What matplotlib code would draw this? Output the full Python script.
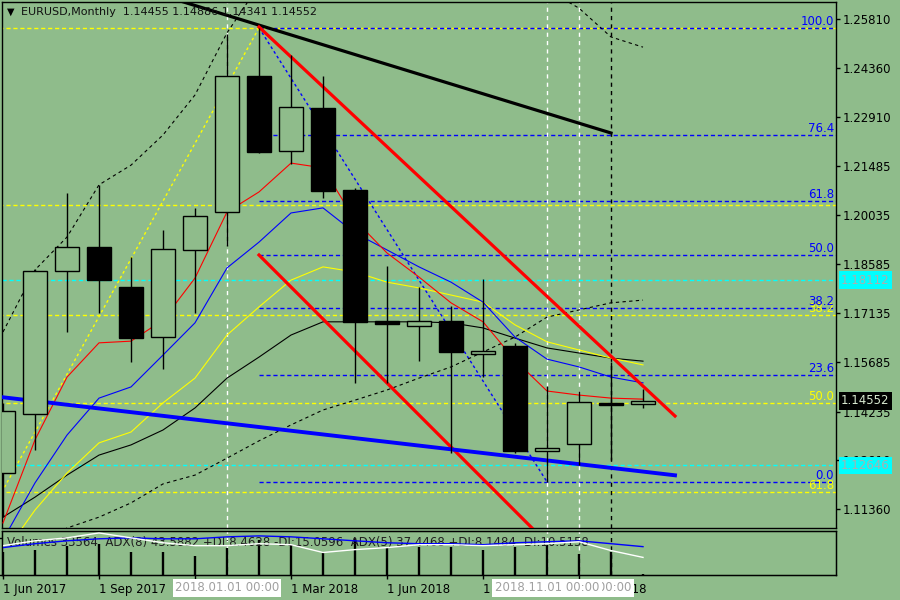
import matplotlib
matplotlib.use("Agg")
import matplotlib.pyplot as plt
import matplotlib.transforms as mtransforms

# --- DATA (EURUSD monthly) ---
months = ["Jun 2017", "Jul 2017", "Aug 2017", "Sep 2017", "Oct 2017", "Nov 2017", "Dec 2017",
          "Jan 2018", "Feb 2018", "Mar 2018", "Apr 2018", "May 2018", "Jun 2018", "Jul 2018",
          "Aug 2018", "Sep 2018", "Oct 2018", "Nov 2018", "Dec 2018", "Jan 2019", "Feb 2019"]
opens  = [1.1242, 1.1416, 1.1838, 1.1909, 1.1791, 1.1643, 1.1900, 1.2012, 1.2413, 1.2192, 1.2319,
          1.2077, 1.1690, 1.1676, 1.1690, 1.1593, 1.1617, 1.1307, 1.1328, 1.1449, 1.14455]
highs  = [1.1449, 1.1844, 1.2068, 1.2091, 1.1879, 1.1959, 1.2024, 1.2537, 1.2555, 1.2475, 1.2413,
          1.2083, 1.1853, 1.1791, 1.1735, 1.1814, 1.1626, 1.1499, 1.1484, 1.1570, 1.14886]
lows   = [1.1112, 1.1310, 1.1658, 1.1714, 1.1570, 1.1549, 1.1714, 1.1912, 1.2186, 1.2153, 1.2053,
          1.1508, 1.1508, 1.1572, 1.1301, 1.1525, 1.1301, 1.1216, 1.1266, 1.1281, 1.14341]
closes = [1.1425, 1.1838, 1.1909, 1.1811, 1.1640, 1.1903, 1.2000, 1.2413, 1.2189, 1.2322, 1.2074,
          1.1687, 1.1681, 1.1690, 1.1599, 1.1602, 1.1307, 1.1316, 1.1452, 1.1443, 1.14552]
volumes = [1040000, 1131000, 1312000, 1402000, 1040000, 1040000, 860000, 1221000, 1583000,
           1357000, 1040000, 1673811, 1267000, 1267000, 1267000, 1131000, 1267000, 1357000,
           950000, 1040000, 33564]

ma_red    = [1.1095, 1.1340, 1.1525, 1.1626, 1.1631, 1.1693, 1.1817, 1.2012, 1.2071, 1.2156, 1.2142,
             1.1988, 1.1891, 1.1820, 1.1744, 1.1688, 1.1575, 1.1484, 1.1472, 1.1463, 1.1460]
ma_blue   = [1.1045, 1.1213, 1.1354, 1.1463, 1.1496, 1.1590, 1.1685, 1.1847, 1.1923, 1.2009, 1.2024,
             1.1950, 1.1900, 1.1850, 1.1805, 1.1746, 1.1643, 1.1578, 1.1555, 1.1525, 1.1508]
ma_yellow = [1.1000, 1.1133, 1.1242, 1.1331, 1.1363, 1.1449, 1.1522, 1.1649, 1.1732, 1.1811, 1.1850,
             1.1835, 1.1805, 1.1788, 1.1767, 1.1746, 1.1679, 1.1629, 1.1605, 1.1581, 1.1561]
ma_black  = [1.1112, 1.1171, 1.1236, 1.1295, 1.1325, 1.1369, 1.1434, 1.1522, 1.1584, 1.1649, 1.1688,
             1.1688, 1.1688, 1.1688, 1.1685, 1.1670, 1.1640, 1.1611, 1.1596, 1.1581, 1.1572]
band_upper = [1.1658, 1.1841, 1.1938, 1.2092, 1.2150, 1.2239, 1.2357, 1.2540, 1.2681, 1.2755, 1.2814,
              1.2844, 1.2844, 1.2829, 1.2799, 1.2755, 1.2711, 1.2667, 1.2613, 1.2528, 1.2498]
band_lower = [1.0956, 1.1015, 1.1080, 1.1112, 1.1154, 1.1210, 1.1236, 1.1286, 1.1337, 1.1384, 1.1428,
              1.1457, 1.1487, 1.1522, 1.1555, 1.1599, 1.1643, 1.1702, 1.1723, 1.1744, 1.1752]

adx_blue  = [43.6, 49.8, 54.4, 57.6, 59.1, 57.6, 57.6, 60.7, 62.2, 60.7, 57.6, 54.4, 51.3, 49.8,
             49.8, 48.2, 51.3, 52.9, 54.4, 49.8, 45.1]
adx_white = [46.7, 54.4, 59.1, 66.9, 59.1, 51.3, 46.7, 46.7, 49.8, 48.2, 35.8, 40.4, 43.6, 48.2,
             48.2, 46.7, 48.2, 49.8, 52.9, 38.9, 28.0]

# trend lines: (bar index, price) anchors
black_tl = ([5, 19], [1.26497, 1.22448])
red_upper_tl = ([8, 21], [1.25574, 1.14102])
red_lower_tl = ([8, 17], [1.18850, 1.10358])
blue_tl = ([-1, 21], [1.14764, 1.12354])

fib_blue_x = [8, 17]
fib_blue_p = [1.2555, 1.1216]
fib_blue_levels = [0.0, 23.6, 38.2, 50.0, 61.8, 76.4, 100.0]
fib_yel_x = [-5, 8]
fib_yel_p = [1.0341, 1.2555]
fib_yel_levels = [0.0, 23.6, 38.2, 50.0, 61.8]
fib_yel_labeled = [38.2, 50.0, 61.8]

cyan_levels = [1.18112, 1.12646]
white_vlines = [7, 17, 18]
white_vlabels = ["2018.01.01 00:00", "2018.11.01 00:00", "2018.12.01 00:00"]
black_vlines = [19]

price_ticks = [1.25810, 1.24360, 1.22910, 1.21485, 1.20035, 1.18585, 1.17135, 1.15685,
               1.14235, 1.12810, 1.11360]

bg = "#8fbc8b"
plt.rcParams["font.family"] = ["DejaVu Sans"]
plt.rcParams["font.size"] = 8

fig = plt.figure(figsize=(9, 6), dpi=100, facecolor=bg)
W, H = 900, 600
ax = fig.add_axes([2 / W, 1 - 528 / H, 834 / W, 526 / H], facecolor=bg)
vax = fig.add_axes([2 / W, 1 - 575 / H, 834 / W, 44 / H], facecolor=bg)

x = list(range(len(months)))
xlim = (-1 / 32, 833 / 32)

# --- MAIN PANEL ---
dash = (0, (3, 2))
for p in cyan_levels:
    ax.axhline(p, color="#00ffff", lw=1, ls=dash, zorder=2)

yl_hi, yl_lo = fib_yel_p[1], fib_yel_p[0]
ytr = mtransforms.blended_transform_factory(ax.transAxes, ax.transData)
for lv in fib_yel_levels:
    pr = yl_hi - lv / 100 * (yl_hi - yl_lo)
    ax.plot([fib_yel_x[0], xlim[1]], [pr, pr], color="#ffff00", lw=1, ls=dash, zorder=2)
    if lv in fib_yel_labeled:
        ax.text(0.9976, pr, f"{lv:.1f}", color="#ffff00", ha="right", va="bottom",
                transform=ytr, fontsize=8.5, zorder=3)
ax.plot(fib_yel_x, fib_yel_p, color="#ffff00", lw=1, ls=(0, (2, 2)), zorder=2)

bl_hi, bl_lo = fib_blue_p[0], fib_blue_p[1]
for lv in fib_blue_levels:
    pr = bl_lo + lv / 100 * (bl_hi - bl_lo)
    ax.plot([fib_blue_x[0], xlim[1]], [pr, pr], color="#0000ff", lw=1, ls=dash, zorder=2)
    ax.text(0.9976, pr, f"{lv:.1f}", color="#0000ff", ha="right", va="bottom",
            transform=ytr, fontsize=8.5, zorder=3)
ax.plot(fib_blue_x, fib_blue_p, color="#0000ff", lw=1, ls=(0, (2, 2)), zorder=2)

for v in white_vlines:
    ax.axvline(v, color="white", lw=1, ls=(0, (3, 3)), zorder=2)
    vax.axvline(v, color="white", lw=1, ls=(0, (3, 3)), zorder=2)
for v in black_vlines:
    ax.axvline(v, color="black", lw=1, ls=(0, (3, 3)), zorder=2)
    vax.axvline(v, color="black", lw=1, ls=(0, (3, 3)), zorder=2)

ax.plot(x, band_upper, color="black", lw=0.8, ls=(0, (3, 3)), zorder=3)
ax.plot(x, band_lower, color="black", lw=0.8, ls=(0, (3, 3)), zorder=3)
ax.plot(x, ma_black, color="black", lw=0.8, zorder=3)
ax.plot(x, ma_yellow, color="#ffff00", lw=0.8, zorder=3)
ax.plot(x, ma_blue, color="#0000ff", lw=0.8, zorder=3)
ax.plot(x, ma_red, color="#ff0000", lw=0.8, zorder=3)

ax.plot(*black_tl, color="black", lw=2.3, zorder=4)
ax.plot(*red_upper_tl, color="#ff0000", lw=2.3, zorder=4)
ax.plot(*red_lower_tl, color="#ff0000", lw=2.3, zorder=4)
ax.plot(*blue_tl, color="#0000ff", lw=2.8, zorder=4)

# candles
ax.vlines(x, lows, highs, color="black", lw=1, zorder=6)
bottoms = [min(o, c) for o, c in zip(opens, closes)]
heights = [max(abs(c - o), 0.00005) for o, c in zip(opens, closes)]
fills = ["black" if c < o else bg for o, c in zip(opens, closes)]
ax.bar(x, heights, bottom=bottoms, width=0.75, color=fills, edgecolor="black",
       linewidth=1, zorder=7)

ax.set_xlim(*xlim)
ax.set_ylim(1.10800, 1.26311)
ax.set_xticks([])
ax.yaxis.tick_right()
ax.set_yticks(price_ticks)
ax.set_yticklabels([f"{p:.5f}" for p in price_ticks])
ax.tick_params(axis="y", direction="out", length=3, width=1, pad=2, labelsize=8.5)
for s in ax.spines.values():
    s.set_linewidth(1)

ax.text(1.006, closes[-1], f"{closes[-1]:.5f}", transform=ytr, ha="left", va="center",
        color="#d8e8d0", fontsize=8.5, zorder=10, clip_on=False,
        bbox=dict(boxstyle="square,pad=0.2", fc="black", ec="none"))
for p in cyan_levels:
    ax.text(1.006, p, f"{p:.5f}", transform=ytr, ha="left", va="center",
            color="#a8b0b0", fontsize=8.5, zorder=10, clip_on=False,
            bbox=dict(boxstyle="square,pad=0.2", fc="#00ffff", ec="none"))

fig.text(7 / W, 1 - 12 / H, "\u25bc", fontsize=7, va="center", ha="left")
fig.text(21 / W, 1 - 12 / H,
         f"EURUSD,Monthly  {opens[-1]:.5f} {highs[-1]:.5f} {lows[-1]:.5f} {closes[-1]:.5f}",
         fontsize=8, va="center", ha="left", color="#101010")

# --- VOLUME / ADX PANEL ---
vax.vlines(x, 0, volumes, color="black", lw=1.7, zorder=3)
vax.set_xlim(*xlim)
vax.set_ylim(0, 1673811 * 44 / 37)
vax.yaxis.tick_right()
vax.set_yticks([0, 1673811])
vax.set_yticklabels(["0", "1673811"])
vax.get_yticklabels()[0].set_va("bottom")
vax.tick_params(axis="y", direction="out", length=3, width=1, pad=2, labelsize=8.5)

tick_idx = [0, 3, 6, 9, 12, 15, 18]
vax.set_xticks(tick_idx)
vax.set_xticklabels(["1 " + months[i] for i in tick_idx], ha="left")
vax.tick_params(axis="x", direction="out", length=3, width=1, pad=3, labelsize=8.5)
for s in vax.spines.values():
    s.set_linewidth(1)

xtr = vax.get_xaxis_transform()
for v, lab in list(zip(white_vlines, white_vlabels))[::-1]:
    vax.text(v, -0.29, lab, transform=xtr, ha="center", va="center", color="#a0a0a0",
             fontsize=8.5, zorder=10, clip_on=False,
             bbox=dict(boxstyle="square,pad=0.2", fc="white", ec="none"))

vax.text(0.006, 0.73, "Volumes 33564  ADX(8) 43.5882 +DI:8.4628 -DI:15.0596  "
         "ADX(5) 37.4468 +DI:8.1484 -DI:10.5158", transform=vax.transAxes,
         ha="left", va="center", fontsize=8.5, color="#202020", zorder=5)

adx = vax.twinx()
adx.set_ylim(0, 70)
adx.set_yticks([])
adx.plot(x, adx_blue, color="#0000ff", lw=1)
adx.plot(x, adx_white, color="white", lw=1)
adx.set_xlim(*xlim)

fig.savefig("out.png", dpi=100, facecolor=bg)
